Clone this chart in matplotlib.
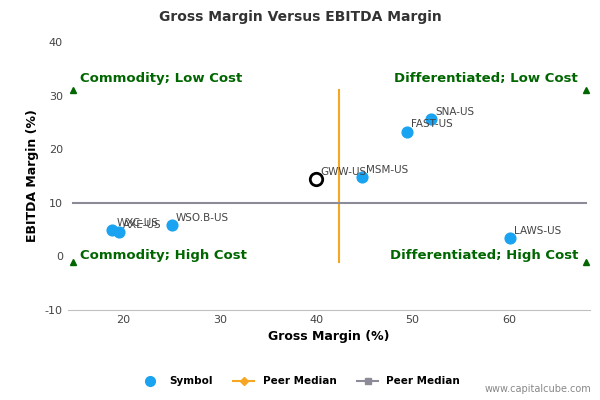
import matplotlib.pyplot as plt
from matplotlib.lines import Line2D

plt.rcParams['axes.unicode_minus'] = False

names = ['WXC-US', 'AXE-US', 'WSO.B-US', 'MSM-US', 'FAST-US', 'SNA-US', 'LAWS-US']
gross = [18.8, 19.5, 25.0, 44.7, 49.4, 51.9, 60.1]
ebitda = [4.9, 4.6, 5.8, 14.8, 23.3, 25.6, 3.4]
focus_name = 'GWW-US'
focus_x, focus_y = 40.0, 14.5
median_x, median_y = 42.4, 10.0
xmin, xmax = 14.2, 68.4

fig = plt.figure(figsize=(6, 4), dpi=100)
ax = fig.add_axes([0.113, 0.225, 0.87, 0.67])
green = '#006600'

ax.plot([median_x, median_x], [-1, 31], color='#f5a623', lw=1.5, zorder=2)
ax.plot([14.7, 68], [median_y, median_y], color='#8c8c99', lw=1.5, zorder=2)
ax.scatter(gross, ebitda, s=60, color='#1aa3f0', zorder=3)
ax.scatter([focus_x], [focus_y], s=80, facecolor='white', edgecolor='black', lw=2, zorder=4)
for n, x, y in zip(names, gross, ebitda):
    ax.annotate(n, (x, y), xytext=(3, 3), textcoords='offset points', fontsize=7.5, color='#444444')
ax.annotate(focus_name, (focus_x, focus_y), xytext=(3, 3), textcoords='offset points', fontsize=7.5, color='#444444')

for x, y in [(14.7, 31), (68, 31), (14.7, -1), (68, -1)]:
    ax.plot(x, y, marker='^', color=green, ms=5, zorder=3)
ax.text(15.5, 32.5, 'Commodity; Low Cost', color=green, fontsize=9.5, fontweight='bold')
ax.text(67.2, 32.5, 'Differentiated; Low Cost', color=green, fontsize=9.5, fontweight='bold', ha='right')
ax.text(15.5, -0.5, 'Commodity; High Cost', color=green, fontsize=9.5, fontweight='bold')
ax.text(67.2, -0.5, 'Differentiated; High Cost', color=green, fontsize=9.5, fontweight='bold', ha='right')

ax.set_xlim(xmin, xmax)
ax.set_ylim(-10, 40)
ax.set_xticks([20, 30, 40, 50, 60])
ax.set_yticks([-10, 0, 10, 20, 30, 40])
ax.tick_params(labelsize=8, colors='#444444', length=0)
for s in ['top', 'right', 'left']:
    ax.spines[s].set_visible(False)
ax.spines['bottom'].set_color('#c0c0c0')
ax.set_xlabel('Gross Margin (%)', fontsize=9, fontweight='bold')
ax.set_ylabel('EBITDA Margin (%)', fontsize=9, fontweight='bold')
fig.suptitle('Gross Margin Versus EBITDA Margin', fontsize=10, fontweight='bold', color='#333333', y=0.975)

handles = [Line2D([], [], marker='o', color='#1aa3f0', ls='', ms=7),
           Line2D([], [], marker='D', color='#f5a623', ms=4),
           Line2D([], [], marker='s', color='#8c8c99', ms=5)]
fig.legend(handles, ['Symbol', 'Peer Median', 'Peer Median'], loc='center', bbox_to_anchor=(0.5, 0.047),
           ncol=3, frameon=False, prop={'size': 7.5, 'weight': 'bold'}, handlelength=2)
fig.text(0.985, 0.02, 'www.capitalcube.com', ha='right', fontsize=7, color='#888888')
fig.savefig('out.png')
